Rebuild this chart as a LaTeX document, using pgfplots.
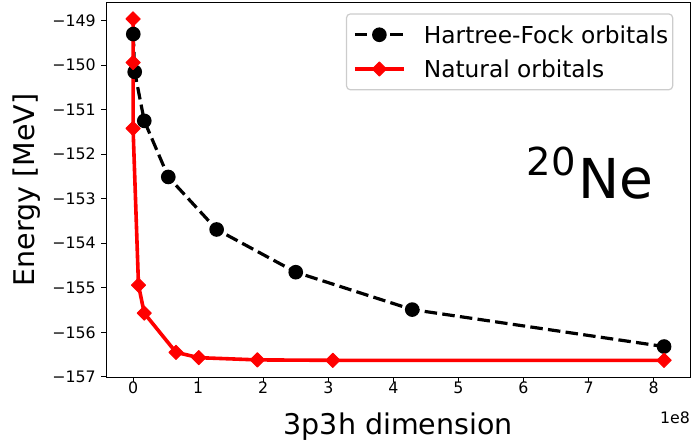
\documentclass[border=0pt]{standalone}
\usepackage{fontspec}
\setmainfont{DejaVu Sans}
\usepackage{pgfplots}
\pgfplotsset{compat=1.18}

% x values in units of 1e8 (3p3h dimension), energies in MeV
\begin{document}
\begin{tikzpicture}
\path[use as bounding box] (-106.4pt,-67.8pt) rectangle (587.6pt,377.25pt);
\begin{axis}[
  at={(0pt,0pt)}, anchor=south west,
  scale only axis, width=583.7pt, height=374.8pt,
  clip=false,
  xmin=-0.41, xmax=8.56, ymin=-157.01, ymax=-148.59,
  xtick={0,1,2,3,4,5,6,7,8},
  xticklabels={0,1,2,3,4,5,6,7,8},
  ytick={-157,-156,-155,-154,-153,-152,-151,-150,-149},
  yticklabels={−157,−156,−155,−154,−153,−152,−151,−150,−149},
  scaled x ticks=false,
  tick pos=left, tick align=outside,
  major tick length=5pt,
  tick style={black, line width=1.1pt},
  axis line style={black, line width=1.1pt},
  tick label style={font=\fontsize{15.8}{19}\selectfont, inner sep=0pt},
  xticklabel style={anchor=base, yshift=-11.5pt},
  yticklabel style={anchor=east, xshift=-5.4pt},
  every axis x label/.style={at={(axis description cs:0.5,-0.1523)}, anchor=base, inner sep=0pt, font=\fontsize{28.5}{34}\selectfont},
  every axis y label/.style={at={(axis description cs:-0.1235,0.5)}, rotate=90, anchor=base, inner sep=0pt, font=\fontsize{28.5}{34}\selectfont},
  xlabel={3p3h dimension},
  ylabel={Energy [MeV]},
  legend style={
    at={(axis description cs:1,1)}, anchor=north east,
    xshift=-16.8pt, yshift=-10.85pt,
    draw=black!20, line width=1.2pt, rounded corners=4pt,
    fill=white, font=\fontsize{23.3}{28}\selectfont,
    inner xsep=4.5pt, inner ysep=12pt, row sep=16.5pt,
    nodes={inner sep=0pt, text depth=0pt},
  },
  legend cell align=left,
  legend image code/.code={
    \path[draw=none, fill=none] (0pt,-1pt) rectangle (72.9pt,1pt);
    \draw[mark repeat=2, mark phase=2, #1] plot coordinates {(3.9pt,0pt) (28.4pt,0pt) (52.9pt,0pt)};
  },
]
\addplot[black, line width=3.2pt, dash pattern=on 12.5pt off 5.3pt,
  mark=*, mark size=5.7pt, mark options={solid, fill=black}]
  coordinates {
  (0.003,-149.30) (0.025,-150.15) (0.172,-151.25) (0.541,-152.51)
  (1.284,-153.69) (2.50,-154.65) (4.29,-155.49) (8.16,-156.32)
  };
\addlegendentry{Hartree-Fock orbitals}
\addplot[red, line width=3.6pt, line join=round,
  mark=square*, mark size=5pt, mark options={solid, rotate=45, fill=red, line width=1pt}]
  coordinates {
  (0.000,-148.96) (0.000,-149.94) (0.000,-151.42) (0.083,-154.94)
  (0.172,-155.57) (0.659,-156.45) (1.01,-156.57) (1.91,-156.62)
  (3.07,-156.63) (8.16,-156.63)
  };
\addlegendentry{Natural orbitals}
\node[anchor=base west, inner sep=0pt, xshift=3pt] at (axis cs:6,-153)
  {{\fontsize{38.5}{40}\selectfont\raisebox{23.3pt}{20}}\hspace{3pt}{\fontsize{55}{60}\selectfont Ne}};
\node[anchor=base east, inner sep=0pt, yshift=-46.1pt, font=\fontsize{15.8}{19}\selectfont]
  at (axis description cs:1,0) {1e8};
\end{axis}
\end{tikzpicture}
\end{document}
